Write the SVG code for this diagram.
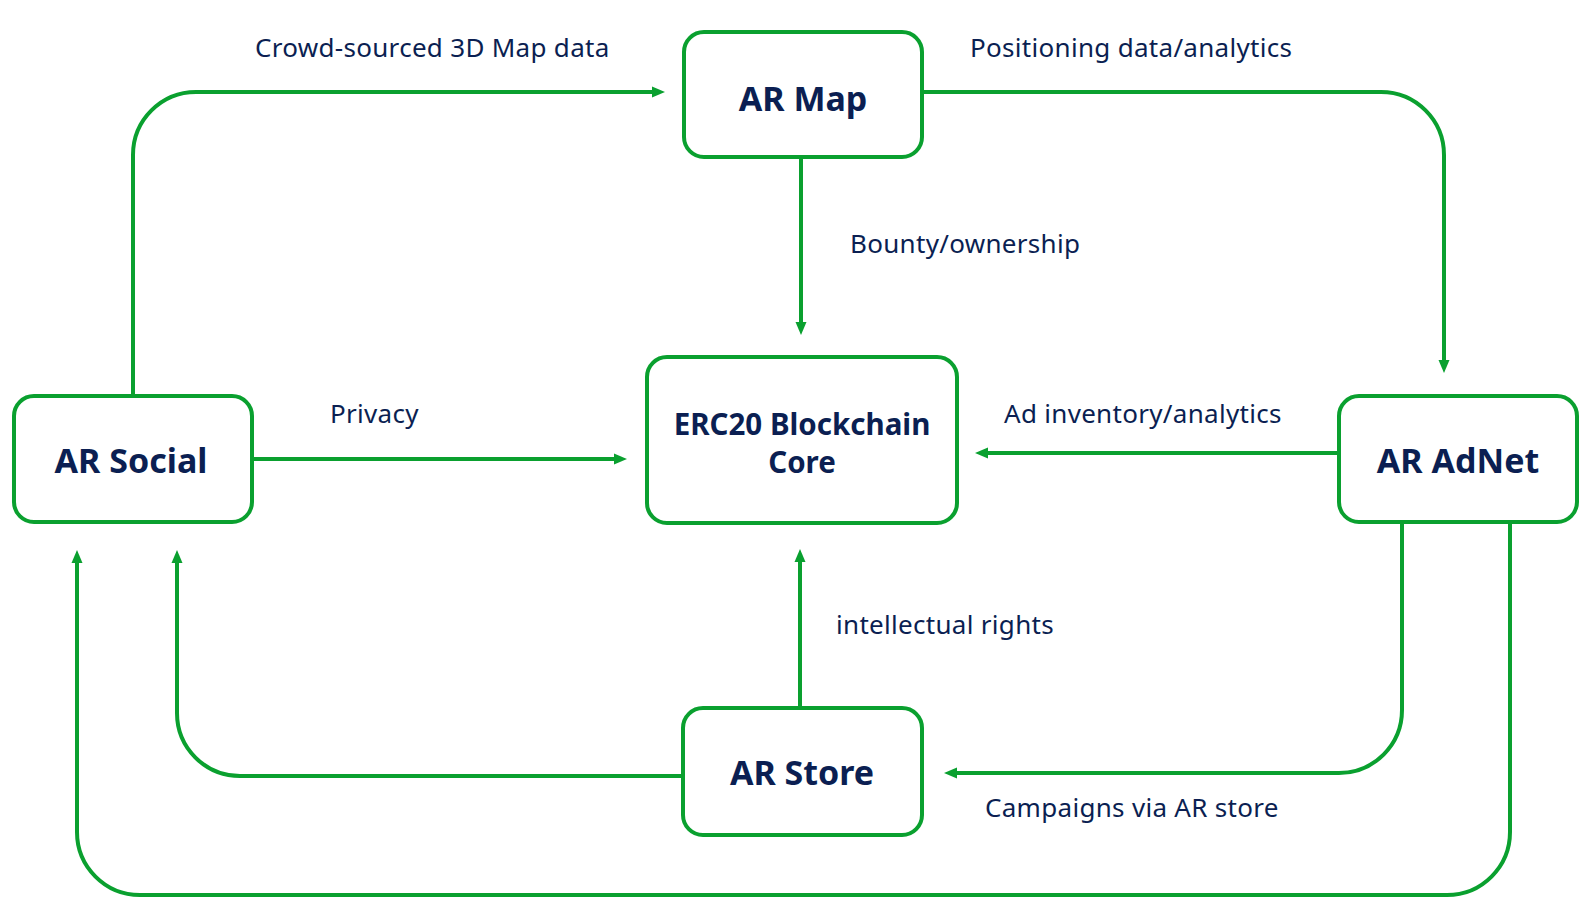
<svg xmlns="http://www.w3.org/2000/svg" width="1591" height="924" viewBox="0 0 1591 924">
<defs>
<style>
.box{fill:#fff;stroke:#0aa02f;stroke-width:4}
.conn{fill:none;stroke:#0aa02f;stroke-width:4}
.title{font-family:"Noto Sans","Open Sans",sans-serif;font-weight:bold;font-size:34px;fill:#0b1f52;text-anchor:middle}
.lbl{font-family:"Noto Sans","Open Sans",sans-serif;font-size:26px;letter-spacing:0.3px;fill:#0b1f52}
</style>
<marker id="arr" markerUnits="userSpaceOnUse" markerWidth="14" markerHeight="12" refX="6" refY="6" orient="auto">
<path d="M0,0.5 L13,6 L0,11.5 z" fill="#0aa02f"/>
</marker>
</defs>
<rect width="1591" height="924" fill="#fff"/>
<g id="connectors">
<path class="conn" marker-end="url(#arr)" d="M133,395 V155 A63,63 0 0 1 196,92 H658"/>
<path class="conn" marker-end="url(#arr)" d="M922,92 H1381 A63,63 0 0 1 1444,155 V366"/>
<path class="conn" marker-end="url(#arr)" d="M801,157 V328"/>
<path class="conn" marker-end="url(#arr)" d="M252,459 H620"/>
<path class="conn" marker-end="url(#arr)" d="M1339,453 H982"/>
<path class="conn" marker-end="url(#arr)" d="M800,708 V556"/>
<path class="conn" marker-end="url(#arr)" d="M683,776 H240 A63,63 0 0 1 177,713 V557"/>
<path class="conn" marker-end="url(#arr)" d="M1402,522 V710 A63,63 0 0 1 1339,773 H951"/>
<path class="conn" marker-end="url(#arr)" d="M1510,522 V832 A63,63 0 0 1 1447,895 H140 A63,63 0 0 1 77,832 V557"/>
</g>
<g id="labels">
<text class="lbl" x="255" y="57">Crowd-sourced 3D Map data</text>
<text class="lbl" x="970" y="57">Positioning data/analytics</text>
<text class="lbl" x="850" y="253">Bounty/ownership</text>
<text class="lbl" x="330" y="423">Privacy</text>
<text class="lbl" x="1004" y="423">Ad inventory/analytics</text>
<text class="lbl" x="836" y="634">intellectual rights</text>
<text class="lbl" x="985" y="817">Campaigns via AR store</text>
</g>
<g id="ar-map">
<rect class="box" x="684" y="32" width="238" height="125" rx="20"/>
<text class="title" x="803" y="111">AR Map</text>
</g>
<g id="ar-social">
<rect class="box" x="14" y="396" width="238" height="126" rx="20"/>
<text class="title" x="131" y="473">AR Social</text>
</g>
<g id="erc20">
<rect class="box" x="647" y="357" width="310" height="166" rx="20"/>
<text class="title" style="font-size:29.5px"><tspan x="802" y="435">ERC20 Blockchain</tspan><tspan x="802" y="473">Core</tspan></text>
</g>
<g id="ar-adnet">
<rect class="box" x="1339" y="396" width="238" height="126" rx="20"/>
<text class="title" x="1458" y="473">AR AdNet</text>
</g>
<g id="ar-store">
<rect class="box" x="683" y="708" width="239" height="127" rx="20"/>
<text class="title" x="802" y="785">AR Store</text>
</g>
</svg>
